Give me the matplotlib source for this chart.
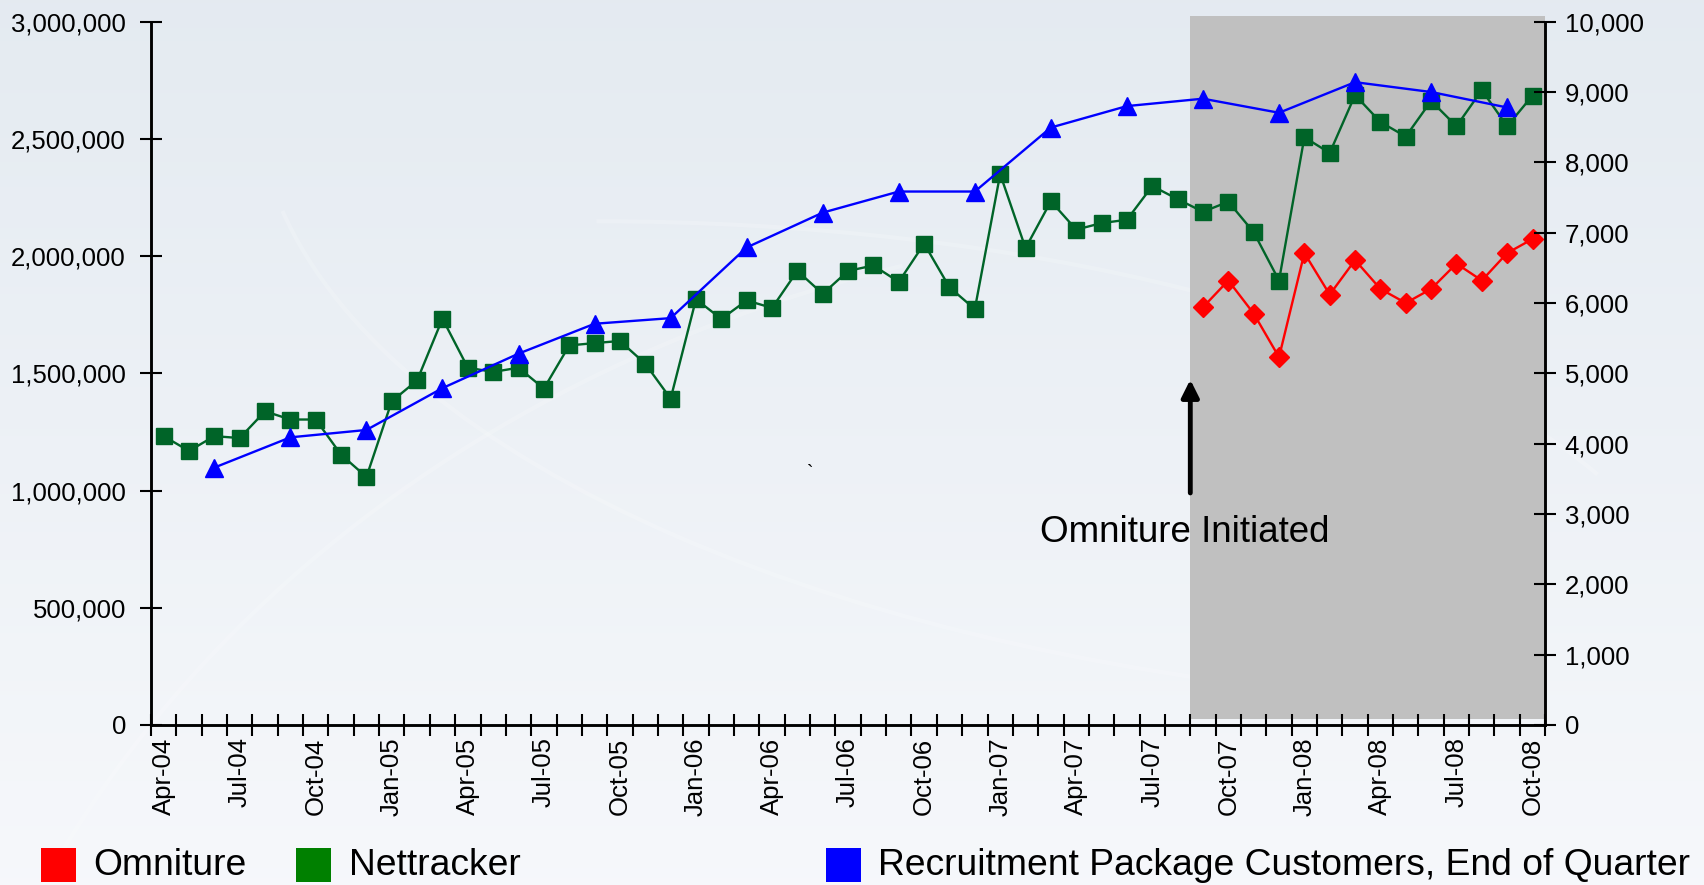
import numpy as np
import matplotlib
matplotlib.use('Agg')
import matplotlib.pyplot as plt
from matplotlib.patches import Rectangle, Arc
from matplotlib.ticker import FuncFormatter
import matplotlib.transforms as mtransforms

plt.rcParams['font.family'] = ['Liberation Sans', 'DejaVu Sans']

# monthly categories, Apr-04 .. Oct-08
months = ['Apr', 'May', 'Jun', 'Jul', 'Aug', 'Sep', 'Oct', 'Nov', 'Dec', 'Jan', 'Feb', 'Mar']
labels = []
year = 4
for i in range(55):
    m = months[i % 12]
    if m == 'Jan' and i > 0:
        year += 1
    labels.append('%s-%02d' % (m, year))

nettracker = [1232000, 1169000, 1232000, 1224000, 1338000, 1303000, 1303000, 1153000,
              1058000, 1381000, 1470000, 1733000, 1524000, 1506000, 1524000, 1435000,
              1619000, 1629000, 1638000, 1541000, 1392000, 1816000, 1732000, 1811000,
              1779000, 1937000, 1839000, 1937000, 1960000, 1890000, 2053000, 1867000,
              1774000, 2350000, 2034000, 2234000, 2113000, 2141000, 2155000, 2299000,
              2243000, 2189000, 2232000, 2102000, 1896000, 2507000, 2440000, 2687000,
              2572000, 2510000, 2662000, 2554000, 2708000, 2554000, 2685000]

omniture_idx = list(range(41, 55))
omniture = [1782000, 1896000, 1755000, 1569000, 2013000, 1836000, 1983000, 1860000,
            1800000, 1860000, 1968000, 1896000, 2013000, 2073000]

quarter_idx = list(range(2, 55, 3))
customers = [3660, 4090, 4195, 4790, 5280, 5705, 5785, 6790, 7285, 7585, 7585, 8495,
             8800, 8905, 8705, 9140, 9000, 8780]

fig = plt.figure(figsize=(17.04, 8.85), dpi=100)

# background gradient with a few faint swooshes
bg = fig.add_axes([0, 0, 1, 1], zorder=-10)
grad = np.linspace(0, 1, 256).reshape(-1, 1)
top_c = np.array([0.895, 0.92, 0.945])
bot_c = np.array([0.965, 0.972, 0.985])
img = top_c + (bot_c - top_c) * grad[..., None]
bg.imshow(img, aspect='auto', extent=[0, 1, 0, 1], origin='upper')
for cx, cy, w, h, t1, t2 in [(0.75, -0.55, 1.6, 2.6, 100, 170),
                             (0.35, 0.25, 1.3, 1.0, 20, 90),
                             (0.95, 0.9, 1.6, 1.4, 190, 260)]:
    bg.add_patch(Arc((cx, cy), w, h, theta1=t1, theta2=t2, color='white', lw=3, alpha=0.18))
bg.set_xlim(0, 1)
bg.set_ylim(0, 1)
bg.axis('off')

ax = fig.add_axes([0.0886, 0.1808, 0.8182, 0.7947])
ax.patch.set_alpha(0)
ax2 = ax.twinx()

x = np.arange(55)

# shaded Omniture period
trans = mtransforms.blended_transform_factory(ax.transData, ax.transAxes)
ax.add_patch(Rectangle((40.5, 0.008), 14.0, 1.0, transform=trans, facecolor='#c0c0c0',
                       edgecolor='none', zorder=0, clip_on=False))

ax.plot(x, nettracker, color='#006428', lw=1.7, marker='s', ms=11.5, zorder=3)
ax.plot(omniture_idx, omniture, color='#ff0000', lw=1.7, marker='D', ms=10, zorder=3)
ax2.plot(quarter_idx, customers, color='#0000ff', lw=1.7, marker='^', ms=13.5, zorder=4)

ax.set_xlim(-0.5, 54.5)
ax.set_ylim(0, 3000000)
ax2.set_ylim(0, 10000)
ax.set_yticks(np.arange(0, 3000001, 500000))
ax2.set_yticks(np.arange(0, 10001, 1000))
ax.yaxis.set_major_formatter(FuncFormatter(lambda v, p: '{:,.0f}'.format(v)))
ax2.yaxis.set_major_formatter(FuncFormatter(lambda v, p: '{:,.0f}'.format(v)))

ax.set_xticks(np.arange(-0.5, 55, 1))
ax.set_xticklabels([])
ax.set_xticks(np.arange(0, 55, 3), minor=True)
ax.set_xticklabels(labels[::3], minor=True, rotation=90, fontsize=18.5)
ax.tick_params(axis='x', which='major', direction='inout', length=16, width=1.5)
ax.tick_params(axis='x', which='minor', length=0, pad=9)
ax.tick_params(axis='y', direction='inout', length=16, width=1.5, labelsize=18.5, pad=10)
ax2.tick_params(axis='y', direction='inout', length=16, width=1.5, labelsize=18.5, pad=6)

for a in (ax, ax2):
    a.spines['top'].set_visible(False)
    for s in ('left', 'right', 'bottom'):
        a.spines[s].set_linewidth(1.8)

ax2.annotate('', xy=(40.5, 4950), xytext=(40.5, 3260),
             arrowprops=dict(arrowstyle='-|>', lw=3.5, color='black', mutation_scale=26))
ax2.text(40.3, 2730, 'Omniture Initiated', ha='center', va='center', fontsize=26.5)
ax2.text(25.5, 3580, '`', ha='center', va='center', fontsize=14)

# legend
legend_items = [(0.0242, '#ff0000', 'Omniture'),
                (0.174, '#008000', 'Nettracker'),
                (0.4847, '#0000ff', 'Recruitment Package Customers, End of Quarter')]
for lx, col, name in legend_items:
    fig.patches.append(Rectangle((lx, 0.003), 0.0204, 0.039, transform=fig.transFigure,
                                 facecolor=col, edgecolor='none'))
    fig.text(lx + 0.0306, 0.022, name, fontsize=26.8, va='center', ha='left')

fig.savefig('out.png', dpi=100)
